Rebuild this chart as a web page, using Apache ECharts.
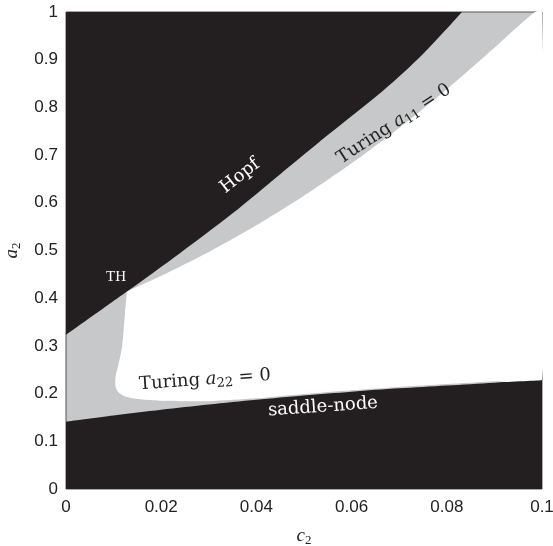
<!DOCTYPE html>
<html>
<head>
<meta charset="utf-8">
<script src="https://cdn.jsdelivr.net/npm/echarts@6/dist/echarts.min.js"></script>
<style>
html, body { margin: 0; padding: 0; background: #fff; }
#main { width: 553px; height: 546px; }
</style>
</head>
<body>
<div id="main"></div>
<script>
// Hopf curve (black above)
var hopfC = [0, 0.0128, 0.024, 0.035, 0.045, 0.055, 0.0666, 0.075, 0.0832];
var hopfA = [0.323, 0.414, 0.495, 0.578, 0.66, 0.742, 0.835, 0.912, 1.0];

// Turing a11 = 0 (grey / white boundary, upper)
var a11C = [0.0128, 0.02, 0.03, 0.04, 0.05, 0.06, 0.07, 0.08, 0.09, 0.0985];
var a11A = [0.414, 0.447, 0.497, 0.553, 0.615, 0.683, 0.757, 0.838, 0.925, 1.0];

// Turing a22 = 0 (grey / white boundary, left and bottom)
var a22C = [0.0128, 0.0124, 0.0118, 0.0110, 0.0104, 0.0104, 0.0110, 0.0122, 0.0140, 0.0165, 0.020, 0.025, 0.030, 0.040, 0.050, 0.060, 0.070, 0.080, 0.090, 0.100];
var a22A = [0.414, 0.37, 0.30, 0.26, 0.235, 0.215, 0.203, 0.195, 0.190, 0.187, 0.185, 0.184, 0.184, 0.190, 0.199, 0.207, 0.214, 0.220, 0.226, 0.231];

// saddle-node curve (black below)
var snC = [0, 0.01, 0.02, 0.03, 0.04, 0.05, 0.06, 0.07, 0.08, 0.09, 0.1];
var snA = [0.141, 0.154, 0.166, 0.177, 0.187, 0.196, 0.204, 0.211, 0.217, 0.223, 0.228];

var BLACK = '#231f20';
var GREY = '#c7c8ca';

function pairs(xs, ys) {
	var out = [];
	for (var i = 0; i < xs.length; i++) out.push([xs[i], ys[i]]);
	return out;
}

var myChart = echarts.init(document.getElementById('main'));

var serif = 'DejaVu Serif';
var lblRich = {
	r: { fontFamily: serif, fontSize: 18, fill: '#222' },
	i: { fontFamily: serif, fontStyle: 'italic', fontSize: 18, fill: '#222' },
	s: { fontFamily: serif, fontSize: 13, fill: '#222', padding: [9, 0, 0, 0] }
};

option = {
	backgroundColor: '#fff',
	animation: false,
	grid: {
		left: 66, right: 11, top: 12, bottom: 57,
		outerBoundsMode: 'none',
		containLabel: false,
		show: true,
		backgroundColor: GREY,
		borderColor: '#555',
		borderWidth: 1
	},
	xAxis: {
		type: 'value', min: 0, max: 0.1, interval: 0.02,
		axisLine: { show: false },
		axisTick: { show: false },
		splitLine: { show: false },
		axisLabel: {
			color: '#222', fontFamily: 'Liberation Sans', fontSize: 17, margin: 10,
			formatter: function (v) { return String(+v.toFixed(2)); }
		},
		name: '{i|c}{s|2}',
		nameLocation: 'middle',
		nameGap: 35,
		nameTextStyle: {
			rich: {
				i: { fontFamily: 'Liberation Serif', fontStyle: 'italic', fontSize: 19, color: '#222' },
				s: { fontFamily: 'Liberation Serif', fontSize: 13, color: '#222', padding: [10, 0, 0, 0] }
			}
		}
	},
	yAxis: {
		type: 'value', min: 0, max: 1, interval: 0.1,
		axisLine: { show: false },
		axisTick: { show: false },
		splitLine: { show: false },
		axisLabel: {
			color: '#222', fontFamily: 'Liberation Sans', fontSize: 17, margin: 8,
			formatter: function (v) { return String(+v.toFixed(1)); }
		},
		name: '{i|a}{s|2}',
		nameLocation: 'middle',
		nameGap: 40,
		nameRotate: 90,
		nameTextStyle: {
			rich: {
				i: { fontFamily: 'Liberation Serif', fontStyle: 'italic', fontSize: 19, color: '#222' },
				s: { fontFamily: 'Liberation Serif', fontSize: 13, color: '#222', padding: [10, 0, 0, 0] }
			}
		}
	},
	series: [
		{
			// white (stable) region
			type: 'custom',
			z: 1,
			data: [0],
			renderItem: function (params, api) {
				var pts = [];
				for (var i = 0; i < a11C.length; i++) pts.push(api.coord([a11C[i], a11A[i]]));
				pts.push(api.coord([0.1, 1]));
				for (var j = a22C.length - 1; j >= 0; j--) pts.push(api.coord([a22C[j], a22A[j]]));
				return {
					type: 'polygon',
					shape: { points: pts, smooth: 0.25 },
					style: { fill: '#fff', stroke: null }
				};
			},
			silent: true
		},
		{
			name: 'Hopf',
			type: 'line',
			z: 3,
			data: pairs(hopfC, hopfA),
			showSymbol: false,
			smooth: 0.3,
			lineStyle: { width: 0 },
			areaStyle: { color: BLACK, opacity: 1, origin: 'end' },
			silent: true
		},
		{
			name: 'saddle-node',
			type: 'line',
			z: 3,
			data: pairs(snC, snA),
			showSymbol: false,
			smooth: 0.3,
			lineStyle: { width: 0 },
			areaStyle: { color: BLACK, opacity: 1, origin: 'start' },
			silent: true
		}
	],
	graphic: [
		{
			type: 'text', x: 116, y: 277, z: 10,
			style: { text: 'TH', fill: '#fff', font: '15px "Liberation Serif"', align: 'center', verticalAlign: 'middle' }
		},
		{
			type: 'text', x: 240, y: 176, z: 10, rotation: 38 * Math.PI / 180,
			style: { text: 'Hopf', fill: '#fff', font: '18px "DejaVu Serif"', align: 'center', verticalAlign: 'middle' }
		},
		{
			type: 'text', x: 394, y: 124, z: 10, rotation: 33 * Math.PI / 180,
			style: { text: '{r|Turing }{i|a}{s|11}{r| = 0}', align: 'center', verticalAlign: 'middle', rich: lblRich }
		},
		{
			type: 'text', x: 205, y: 380, z: 10, rotation: 4 * Math.PI / 180,
			style: { text: '{r|Turing }{i|a}{s|22}{r| = 0}', align: 'center', verticalAlign: 'middle', rich: lblRich }
		},
		{
			type: 'text', x: 323, y: 407, z: 10, rotation: 4 * Math.PI / 180,
			style: { text: 'saddle-node', fill: '#fff', font: '18px "DejaVu Serif"', align: 'center', verticalAlign: 'middle' }
		}
	]
};

myChart.setOption(option);
</script>
</body>
</html>
